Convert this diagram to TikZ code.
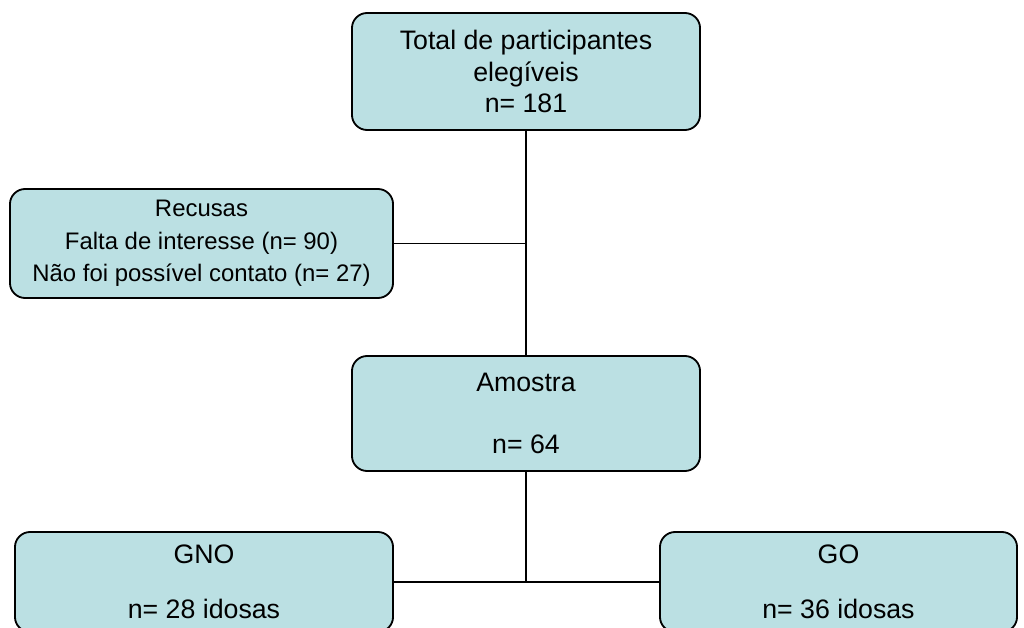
\documentclass[tikz,border=0pt]{standalone}
\usepackage{fontspec}
\setmainfont{Liberation Sans}
\usepackage{tikz}
\usetikzlibrary{positioning}
\definecolor{boxfill}{HTML}{BBE0E3}

\begin{document}
\begin{tikzpicture}[x=0.025cm,y=-0.025cm]
	\useasboundingbox (0,0) rectangle (1024,628);
	\begin{scope}[every node/.style={rectangle,draw,line width=1.3pt,rounded corners=0.38cm,fill=boxfill,align=center,font=\fontsize{19}{22.5}\selectfont,inner sep=0pt}]
		\node[minimum width=8.7cm,minimum height=2.925cm] (total) at (526,71.5) {Total de participantes\\elegíveis\\n= 181};
		\node[minimum width=9.575cm,minimum height=2.725cm,font=\fontsize{17}{23}\selectfont] (recusas) at (201.5,243.5) {Recusas\\Falta de interesse (n= 90)\\Não foi possível contato (n= 27)};
		\node[minimum width=8.7cm,minimum height=2.875cm] (amostra) at (526,413.5) {Amostra\\[22pt]n= 64};
		\node[minimum width=9.45cm,minimum height=2.5cm] (gno) at (204,582) {GNO\\[16.5pt]n= 28 idosas};
		\node[minimum width=8.925cm,minimum height=2.5cm] (go) at (838.5,582) {GO\\[16.5pt]n= 36 idosas};
	\end{scope}

	\coordinate (j1) at (total.south |- recusas.east);
	\coordinate (j2) at (amostra.south |- gno.east);
	\begin{scope}[line width=1pt]
	\draw (total) -- (amostra);
	\draw (recusas.east) -- (j1);
	\draw (amostra) -- (j2);
	\draw (gno.east) -- (go.west);
	\end{scope}
\end{tikzpicture}
\end{document}
